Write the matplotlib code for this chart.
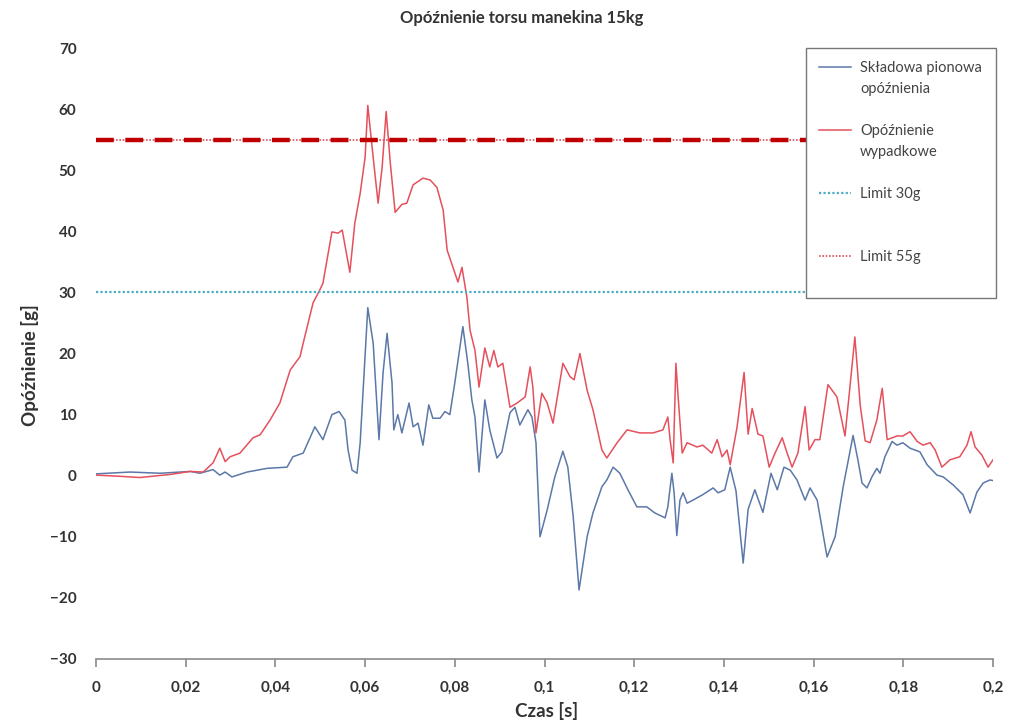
import numpy as np
import matplotlib
matplotlib.use('Agg')
import matplotlib.pyplot as plt
from matplotlib import ticker
from matplotlib.lines import Line2D

plt.rcParams['font.family'] = ['Lato', 'DejaVu Sans']

# czas [s] i opóźnienie wypadkowe [g]
t_res = [0, 0.0054, 0.0098, 0.0165, 0.0210, 0.0239, 0.0261, 0.0276, 0.0288, 0.0299,
         0.0321, 0.0350, 0.0366, 0.0388, 0.0410, 0.0433, 0.0455, 0.0462, 0.0484, 0.0499,
         0.0506, 0.0526, 0.0540, 0.0549, 0.0566, 0.0577, 0.0589, 0.0600, 0.0606, 0.0618,
         0.0629, 0.0638, 0.0647, 0.0656, 0.0667, 0.0682, 0.0693, 0.0707, 0.0729, 0.0745,
         0.0760, 0.0774, 0.0783, 0.0796, 0.0807, 0.0816, 0.0827, 0.0834, 0.0845, 0.0854,
         0.0867, 0.0878, 0.0887, 0.0896, 0.0907, 0.0923, 0.0939, 0.0957, 0.0968, 0.0974,
         0.0981, 0.0994, 0.1006, 0.1019, 0.1041, 0.1057, 0.1066, 0.1079, 0.1095, 0.1108,
         0.1128, 0.1139, 0.1162, 0.1184, 0.1213, 0.1242, 0.1264, 0.1275, 0.1280, 0.1287,
         0.1293, 0.1298, 0.1307, 0.1318, 0.1340, 0.1353, 0.1373, 0.1385, 0.1396, 0.1407,
         0.1414, 0.1429, 0.1445, 0.1454, 0.1463, 0.1476, 0.1487, 0.1501, 0.1514, 0.1530,
         0.1541, 0.1552, 0.1565, 0.1581, 0.1590, 0.1603, 0.1614, 0.1632, 0.1652, 0.1670,
         0.1681, 0.1692, 0.1704, 0.1715, 0.1726, 0.1741, 0.1753, 0.1764, 0.1786, 0.1799,
         0.1815, 0.1831, 0.1844, 0.1860, 0.1871, 0.1886, 0.1904, 0.1926, 0.1942, 0.1951,
         0.1960, 0.1975, 0.1989, 0.2000]
a_res = [0.1, -0.1, -0.3, 0.2, 0.7, 0.6, 2.1, 4.5, 2.3, 3.1,
         3.7, 6.2, 6.7, 9.1, 11.9, 17.3, 19.5, 21.7, 28.3, 30.4,
         31.5, 39.9, 39.7, 40.2, 33.3, 41.3, 46.2, 52.1, 60.6, 52.1,
         44.6, 50.5, 59.6, 51.3, 43.1, 44.4, 44.6, 47.6, 48.7, 48.4,
         47.2, 43.5, 36.9, 34.1, 31.7, 34.1, 29.2, 23.8, 20.5, 14.5,
         20.9, 17.8, 20.5, 17.8, 18.4, 11.2, 11.9, 12.9, 17.8, 14.5,
         7.0, 13.5, 11.9, 8.6, 18.4, 16.2, 15.7, 20.0, 14.0, 10.8,
         4.2, 2.9, 5.4, 7.5, 7.0, 7.0, 7.5, 9.6, 5.9, 2.1,
         18.4, 12.9, 3.7, 5.4, 4.7, 5.0, 3.7, 5.9, 3.1, 4.2,
         1.8, 7.8, 16.9, 6.8, 11.0, 6.8, 6.5, 1.4, 3.7, 6.2,
         3.7, 1.4, 3.7, 11.3, 4.2, 5.9, 5.9, 14.9, 12.9, 6.5,
         14.5, 22.7, 11.5, 5.7, 5.4, 9.1, 14.3, 5.9, 6.5, 6.5,
         7.2, 5.6, 5.0, 5.4, 4.2, 1.4, 2.6, 3.1, 5.0, 7.2,
         4.7, 3.4, 1.4, 2.6]

# czas [s] i składowa pionowa opóźnienia [g]
t_ver = [0, 0.0076, 0.0143, 0.0210, 0.0232, 0.0261, 0.0276, 0.0288, 0.0303, 0.0337,
         0.0381, 0.0426, 0.0439, 0.0462, 0.0488, 0.0506, 0.0526, 0.0542, 0.0555, 0.0562,
         0.0571, 0.0582, 0.0589, 0.0600, 0.0606, 0.0618, 0.0631, 0.0640, 0.0649, 0.0660,
         0.0664, 0.0673, 0.0682, 0.0698, 0.0707, 0.0718, 0.0729, 0.0742, 0.0751, 0.0767,
         0.0778, 0.0789, 0.0800, 0.0818, 0.0829, 0.0838, 0.0845, 0.0854, 0.0867, 0.0878,
         0.0894, 0.0905, 0.0923, 0.0934, 0.0945, 0.0963, 0.0972, 0.0981, 0.0990, 0.1006,
         0.1023, 0.1041, 0.1052, 0.1064, 0.1077, 0.1095, 0.1108, 0.1128, 0.1139, 0.1153,
         0.1168, 0.1186, 0.1206, 0.1228, 0.1246, 0.1269, 0.1275, 0.1284, 0.1289, 0.1295,
         0.1302, 0.1309, 0.1318, 0.1331, 0.1353, 0.1376, 0.1387, 0.1402, 0.1414, 0.1427,
         0.1443, 0.1454, 0.1469, 0.1487, 0.1505, 0.1519, 0.1534, 0.1548, 0.1563, 0.1581,
         0.1592, 0.1608, 0.1630, 0.1648, 0.1666, 0.1688, 0.1699, 0.1708, 0.1719, 0.1730,
         0.1741, 0.1748, 0.1759, 0.1775, 0.1786, 0.1799, 0.1815, 0.1837, 0.1853, 0.1875,
         0.1889, 0.1911, 0.1933, 0.1949, 0.1964, 0.1978, 0.1993, 0.2000]
a_ver = [0.3, 0.6, 0.4, 0.7, 0.4, 1.0, 0.1, 0.6, -0.2, 0.6,
         1.2, 1.4, 3.1, 3.7, 8.0, 5.9, 10.0, 10.5, 9.1, 4.2,
         0.9, 0.4, 5.4, 19.5, 27.5, 21.7, 5.9, 16.8, 23.3, 15.2,
         7.5, 10.0, 7.0, 11.9, 8.0, 8.6, 5.0, 11.6, 9.4, 9.4,
         10.5, 10.0, 15.2, 24.4, 18.4, 12.4, 9.6, 0.6, 12.4, 7.5,
         2.9, 3.9, 10.3, 11.2, 8.3, 10.8, 9.6, 5.4, -10.0, -5.6,
         -0.2, 4.0, 1.4, -6.7, -18.7, -10.0, -6.1, -1.8, -0.7, 1.4,
         0.4, -2.3, -5.1, -5.1, -6.1, -6.9, -5.1, 0.4, -2.8, -9.8,
         -4.0, -2.8, -4.5, -4.0, -3.1, -2.0, -2.8, -2.3, 1.4, -2.5,
         -14.3, -5.5, -2.3, -6.0, 0.4, -2.3, 1.4, 0.9, -0.7, -4.0,
         -2.0, -4.0, -13.3, -10.0, -1.8, 6.6, 2.5, -1.2, -2.0, -0.2,
         1.2, 0.4, 3.1, 5.6, 5.0, 5.4, 4.5, 3.9, 1.8, 0.1,
         -0.2, -1.5, -3.1, -6.1, -2.7, -1.2, -0.7, -0.8]

limit_30 = 30
limit_55 = 55
x_ticks = np.arange(0, 0.2001, 0.02)
y_ticks = np.arange(-30, 71, 10)

fig = plt.figure(figsize=(10.11, 7.26), dpi=100)
ax = fig.add_axes([96 / 1011, 67 / 726, 897 / 1011, 611 / 726])

l_ver, = ax.plot(t_ver, a_ver, color='#5b78a8', lw=1.1)
l_res, = ax.plot(t_res, a_res, color='#e5505c', lw=1.1)
l_30, = ax.plot([0, 0.2], [limit_30, limit_30], color='#4bacc6', lw=1.6, ls=(0, (1, 1)))
l_55, = ax.plot([0, 0.2], [limit_55, limit_55], color='#d9535a', lw=1.2, ls=(0, (1, 1)))
ax.plot([0, 0.2], [limit_55, limit_55], color='#c00000', lw=3.2, ls=(0, (4, 2.6)))

ax.set_xlim(0, 0.2)
ax.set_ylim(-30, 70)
ax.set_xticks(x_ticks)
ax.set_yticks(y_ticks)
ax.xaxis.set_major_formatter(ticker.FuncFormatter(
    lambda v, _: f'{v:.2f}'.rstrip('0').rstrip('.').replace('.', ',') if v else '0'))

for s in ['top', 'right', 'left']:
    ax.spines[s].set_visible(False)
ax.spines['bottom'].set_color('#8a8a8a')
ax.spines['bottom'].set_linewidth(1.2)
ax.tick_params(axis='x', length=6, width=1.2, color='#8a8a8a', pad=10, labelsize=11, labelcolor='#333333')
ax.tick_params(axis='y', length=0, pad=14, labelsize=11, labelcolor='#333333')
for lab in ax.get_xticklabels() + ax.get_yticklabels():
    lab.set_fontweight('bold')

fig.text(522 / 1011, 1 - 18 / 726, 'Opóźnienie torsu manekina 15kg', ha='center', va='center',
         fontsize=12, fontweight='bold', color='#333333')
fig.text(30 / 1011, 1 - 365 / 726, 'Opóźnienie [g]', ha='center', va='center', rotation=90,
         fontsize=13.5, fontweight='bold', color='#333333')
fig.text(547 / 1011, 1 - 711 / 726, 'Czas [s]', ha='center', va='center',
         fontsize=13.5, fontweight='bold', color='#333333')

# legenda w stylu Excela: znacznik przy pierwszej linii opisu
blank = Line2D([], [], color='none')
handles = [l_ver, blank, blank, l_res, blank, blank, l_30, blank, blank, l_55, blank]
labels = ['Składowa pionowa', 'opóźnienia', ' ', 'Opóźnienie', 'wypadkowe', ' ',
          'Limit 30g', ' ', ' ', 'Limit 55g', ' ']
leg = ax.legend(handles, labels, loc='upper left', bbox_to_anchor=(0.7915, 1.0, 0.2118, 0.0),
                mode='expand', frameon=True, fancybox=False, framealpha=1, edgecolor='#777777',
                fontsize=10.5, labelspacing=0.48, handlelength=2.2, handletextpad=0.6,
                borderpad=0.9, borderaxespad=0)
for txt in leg.get_texts():
    txt.set_color('#444444')
leg.set_zorder(5)

fig.savefig('out.png', dpi=100, facecolor='white')
